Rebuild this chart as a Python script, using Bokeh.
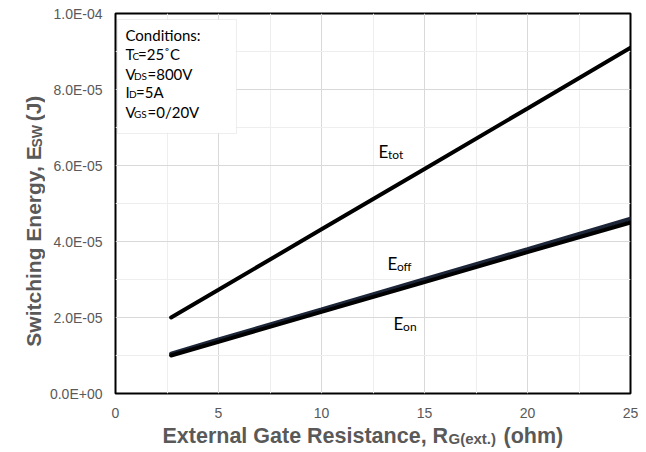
import math
from bokeh.plotting import figure
from bokeh.layouts import row, column
from bokeh.models import Range1d, FixedTicker, CustomJSTickFormatter, Label, BoxAnnotation
from bokeh.embed import file_html
from bokeh.resources import INLINE

# ---- data ----
rg = [2.7, 5, 10, 15, 20, 25]
e_tot = [2.00e-5, 2.73e-5, 4.32e-5, 5.91e-5, 7.50e-5, 9.10e-5]
e_off = [1.05e-5, 1.42e-5, 2.21e-5, 3.01e-5, 3.80e-5, 4.60e-5]
e_on = [1.00e-5, 1.36e-5, 2.15e-5, 2.93e-5, 3.72e-5, 4.50e-5]

x_ticks = [0, 5, 10, 15, 20, 25]
x_minor = [2.5, 7.5, 12.5, 17.5, 22.5]
y_ticks = [0.0, 2e-5, 4e-5, 6e-5, 8e-5, 1e-4]
y_minor = [1e-5, 3e-5, 5e-5, 7e-5, 9e-5]
y_tick_labels = ["0.0E+00", "2.0E-05", "4.0E-05", "6.0E-05", "8.0E-05", "1.0E-04"]

GRAY = "#595959"
AX_FONT = "Liberation Sans"
LBL_FONT = "Lato"
SHIFT = 7   # px: how far bokeh's "alphabetic" anchor sits above the drawn baseline

# ---- page geometry ----
W, H = 646, 452
MAIN_H = 424          # height of the row holding the plot
YT_W = 45             # width of the y-title strip
F_LEFT, F_RIGHT, F_TOP, F_BOTTOM = 115, 630, 13, 393   # frame in page pixels

p = figure(width=W - YT_W, height=MAIN_H, output_backend="svg", toolbar_location=None,
           x_range=Range1d(0, 25), y_range=Range1d(0, 1e-4),
           min_border_left=F_LEFT - YT_W, min_border_right=W - F_RIGHT,
           min_border_top=F_TOP, min_border_bottom=MAIN_H - F_BOTTOM)
p.background_fill_color = "white"
p.border_fill_color = "white"
p.outline_line_color = "black"
p.outline_line_width = 2

p.xaxis.ticker = FixedTicker(ticks=x_ticks, minor_ticks=x_minor)
p.yaxis.ticker = FixedTicker(ticks=y_ticks, minor_ticks=y_minor)
p.yaxis.formatter = CustomJSTickFormatter(args=dict(labels=y_tick_labels),
                                          code="return labels[Math.round(tick/2e-5)];")
for ax in (p.xaxis, p.yaxis):
    ax.axis_line_color = None
    ax.major_tick_line_color = None
    ax.minor_tick_line_color = None
    ax.major_tick_out = 0
    ax.major_tick_in = 0
    ax.minor_tick_out = 0
    ax.minor_tick_in = 0
    ax.major_label_text_font = AX_FONT
    ax.major_label_text_font_size = "14px"
    ax.major_label_text_color = GRAY
p.xaxis.major_label_standoff = 14
p.yaxis.major_label_standoff = 13

p.xgrid.grid_line_color = "#d9d9d9"
p.ygrid.grid_line_color = "#d9d9d9"
p.xgrid.minor_grid_line_color = "#eeeeee"
p.ygrid.minor_grid_line_color = "#eeeeee"

# ---- curves ----
p.line(rg, e_tot, line_width=4, line_color="black", line_cap="round")
p.line(rg, e_off, line_width=4, line_color="#1c2638", line_cap="round")
p.line(rg, e_on, line_width=4, line_color="black", line_cap="round")

PY = 1e-4 / (F_BOTTOM - F_TOP)


def lab(fig, x, y, text, size, font=LBL_FONT, style="normal", color="black", angle=0, xo=0,
        align="left"):
    fig.add_layout(Label(x=x, y=y, text=text, text_font=font, text_font_size=size,
                         text_font_style=style, text_color=color, angle=angle,
                         x_offset=xo, text_baseline="alphabetic", text_align=align))


def plab(xd, base_px, text, size, xo=0):
    """label in the plot; base_px = baseline in page pixels"""
    y = (F_BOTTOM - base_px + SHIFT) * PY
    lab(p, xd, y, text, size, xo=xo)


# ---- conditions box ----
p.add_layout(BoxAnnotation(left=(117 - F_LEFT) / 20.6, right=(236 - F_LEFT) / 20.6,
                           bottom=(F_BOTTOM - 133) * PY, top=(F_BOTTOM - 19) * PY,
                           fill_color="white", fill_alpha=1.0,
                           line_color="#c8c8c8", line_width=1))
cx = (125 - F_LEFT) / 20.6
plab(cx, 41.5, "Conditions:", "15px")
plab(cx, 60.5, "T", "15px")
plab(cx, 62.5, "C", "10px", xo=7)
plab(cx, 60.5, "=25˚C", "15px", xo=12.5)
plab(cx, 80, "V", "15px")
plab(cx, 82, "DS", "10px", xo=8.5)
plab(cx, 80, "=800V", "15px", xo=22)
plab(cx, 98.5, "I", "15px")
plab(cx, 100.5, "D", "10px", xo=3.5)
plab(cx, 98.5, "=5A", "15px", xo=10.5)
plab(cx, 118, "V", "15px")
plab(cx, 120, "GS", "10px", xo=8.5)
plab(cx, 118, "=0/20V", "15px", xo=22)

# ---- curve labels ----
plab(12.77, 158, "E", "17px")
plab(12.77, 161, "tot", "12px", xo=9.5)
plab(13.2, 270, "E", "17px")
plab(13.2, 273, "off", "12px", xo=9.5)
plab(13.5, 330, "E", "17px")
plab(13.5, 333, "on", "12px", xo=9.5)


# ---- title strips (ranges in page pixels, y flipped so y grows downward) ----
def strip(w, h, x0, y0):
    f = figure(width=w, height=h, output_backend="svg", toolbar_location=None,
               x_range=Range1d(x0, x0 + w), y_range=Range1d(y0 + h, y0),
               x_axis_location=None, y_axis_location=None,
               min_border_left=0, min_border_right=0, min_border_top=0, min_border_bottom=0)
    f.outline_line_color = None
    f.background_fill_color = "white"
    f.border_fill_color = "white"
    for r in f.center:
        r.visible = False
    return f


yt = strip(YT_W, MAIN_H, 0, 0)
yb = 40 - SHIFT   # baseline of the rotated title at page x = 40
ROT = math.pi / 2
# rotated pieces are centre-anchored: centres along the page y direction
lab(yt, yb, 260, "Switching Energy, E", "21px", font=AX_FONT, style="bold", color=GRAY,
    angle=ROT, align="center")
lab(yt, yb + 3, 137, "SW", "14px", font=AX_FONT, style="bold", color=GRAY, angle=ROT, align="center")
lab(yt, yb, 106, "(J)", "21px", font=AX_FONT, style="bold", color=GRAY, angle=ROT, align="center")

xt = strip(W, H - MAIN_H, 0, MAIN_H)
lab(xt, 162, 442 - SHIFT, "External Gate Resistance, R", "21.5px", font=AX_FONT, style="bold", color=GRAY)
lab(xt, 448, 445 - SHIFT, "G(ext.)", "15px", font=AX_FONT, style="bold", color=GRAY)
lab(xt, 503, 442 - SHIFT, "(ohm)", "21.5px", font=AX_FONT, style="bold", color=GRAY)

layout = column(row(yt, p, spacing=0), xt, spacing=0)
open("out.html", "w").write(file_html(layout, INLINE))
